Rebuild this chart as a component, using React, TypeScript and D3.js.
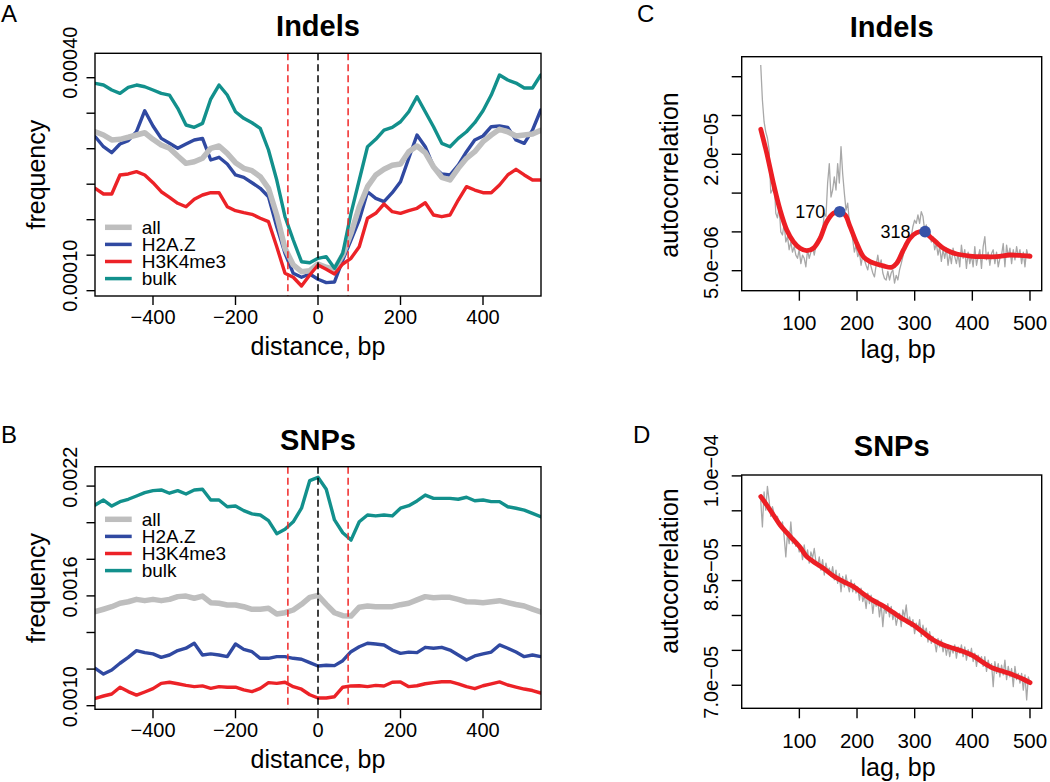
import React from 'react';
import * as d3 from 'd3';

// ---------------- data ----------------
// distance from nucleosome dyad, bp (sampling grid of the read-off values)
const distance = d3.range(-540, 541, 20);

// Panel A: indel frequency, in units of 1e-5
const indelAll = [32.39, 31.93, 31.23, 31.32, 31.61, 31.93, 32.25, 31.32, 30.52, 30.06, 28.97, 27.94, 28.17, 28.65, 30.06, 30.38, 29.35, 28.03, 27.24, 26.9, 26.06, 24.42, 20.66, 15.97, 13.62, 12.68, 12.82, 13.76, 13.3, 13.01, 15.03, 18.08, 21.83, 24.65, 26.3, 27.1, 27.66, 27.85, 29.58, 30.38, 29.44, 27.46, 25.97, 25.59, 27.24, 28.65, 29.58, 30.99, 31.93, 32.73, 32.39, 31.79, 31.93, 32.07, 32.6];
const indelH2AZ = [31.69, 30.28, 29.44, 30.66, 31.13, 32.39, 35.35, 33.2, 31.46, 30.76, 30.06, 30.66, 31.23, 31.46, 28.41, 28.79, 27.85, 26.3, 25.97, 25.21, 24.42, 23.24, 19.01, 15.27, 12.45, 11.89, 12.35, 11.61, 11.13, 11.23, 14.32, 17.14, 19.96, 23.94, 23.01, 22.54, 23.8, 25.35, 28.65, 31.93, 30.28, 27.46, 26.44, 26.3, 27.7, 29.58, 31.23, 31.79, 33.1, 33.2, 33.01, 31.23, 30.76, 32.63, 35.45];
const indelH3K4me3 = [24.42, 23.62, 23.62, 26.3, 26.44, 26.76, 26.3, 25.21, 23.94, 23.15, 22.31, 21.83, 22.87, 23.48, 23.8, 23.8, 21.83, 21.27, 20.99, 20.76, 20.2, 19.72, 16.2, 12.45, 11.89, 10.66, 12.21, 13.62, 13.01, 12.35, 13.76, 14.56, 16.2, 20.2, 20.9, 22.21, 21.13, 20.9, 21.27, 21.61, 22.39, 20.66, 20.42, 20.66, 22.77, 24.65, 24.18, 23.8, 23.8, 24.89, 26.3, 27.1, 26.3, 25.59, 25.59];
const indelBulk = [39.2, 38.97, 38.27, 37.8, 38.65, 38.97, 38.73, 38.27, 37.8, 37.56, 35.69, 33.34, 33.01, 33.57, 37.0, 38.97, 37.56, 35.21, 34.28, 33.66, 32.87, 29.82, 25.59, 20.42, 17.14, 14.08, 13.94, 14.56, 14.79, 13.15, 15.27, 20.9, 25.59, 30.28, 31.32, 32.63, 33.01, 33.8, 35.21, 37.32, 35.21, 33.1, 30.76, 30.28, 31.46, 32.39, 33.66, 35.35, 37.56, 40.38, 39.68, 39.25, 38.55, 38.55, 40.38];

// Panel B: SNP frequency, in units of 1e-5
const snpAll = [151.4, 152.7, 154.1, 156.0, 156.8, 158.1, 157.4, 158.1, 157.4, 158.1, 159.6, 159.9, 158.7, 159.9, 156.3, 156.0, 155.0, 155.0, 154.1, 152.7, 152.7, 153.2, 150.1, 150.8, 152.3, 155.4, 159.2, 160.3, 155.4, 150.8, 149.2, 149.0, 153.8, 154.5, 154.1, 154.1, 154.1, 155.2, 156.0, 157.8, 159.6, 159.0, 159.2, 159.2, 158.1, 156.8, 156.7, 156.3, 156.8, 157.4, 156.3, 155.3, 154.5, 152.8, 151.2];
const snpH2AZ = [120.4, 117.3, 119.5, 123.2, 126.4, 130.1, 129.0, 128.3, 126.4, 127.7, 130.1, 131.4, 134.1, 127.7, 128.3, 127.7, 126.8, 133.7, 130.8, 129.5, 125.9, 125.9, 126.8, 126.8, 125.9, 125.4, 123.5, 121.7, 122.1, 121.9, 124.6, 129.5, 132.2, 134.1, 133.7, 133.2, 130.4, 128.6, 129.3, 129.0, 131.9, 131.4, 131.9, 130.4, 127.7, 125.0, 127.2, 128.3, 129.3, 133.2, 131.4, 129.3, 126.8, 127.7, 126.8];
const snpH3K4me3 = [104.0, 105.3, 106.4, 110.1, 107.7, 105.8, 107.5, 109.3, 112.2, 112.8, 112.0, 111.1, 110.4, 110.8, 109.5, 110.4, 110.1, 110.1, 108.6, 107.7, 109.5, 112.6, 112.2, 112.8, 110.4, 109.0, 106.0, 104.2, 104.2, 104.9, 110.1, 110.8, 110.9, 110.4, 111.1, 110.8, 112.8, 113.0, 110.4, 110.9, 112.0, 112.6, 113.1, 113.1, 111.9, 110.4, 109.3, 110.9, 111.9, 113.0, 111.3, 110.2, 109.1, 108.3, 106.9];
const snpBulk = [209.7, 212.4, 209.1, 211.5, 212.8, 214.6, 216.4, 217.5, 217.9, 216.1, 217.5, 215.7, 217.9, 218.3, 212.4, 212.4, 208.7, 209.1, 206.6, 204.8, 204.2, 201.1, 194.0, 196.4, 200.5, 207.9, 223.0, 224.8, 218.3, 201.5, 194.5, 190.5, 200.5, 204.2, 203.7, 204.2, 203.7, 207.9, 209.3, 211.9, 215.1, 213.3, 213.3, 213.3, 212.8, 213.9, 212.0, 212.4, 211.5, 211.5, 208.7, 207.9, 206.9, 205.1, 203.3];

const distTicks = [-400, -200, 0, 200, 400];
const distTickLabels = ['\u2212400', '\u2212200', '0', '200', '400'];
const indelFreqTicks = [10, 15, 20, 25, 30, 35, 40];
const indelFreqLabels = ['0.00010', '', '', '', '', '', '0.00040'];
const snpFreqTicks = [100, 120, 140, 160, 180, 200, 220];
const snpFreqLabels = ['0.0010', '', '', '0.0016', '', '', '0.0022'];
const nucleosomeEdges = [-73, 73];
const legendNames = ['all', 'H2A.Z', 'H3K4me3', 'bulk'];

// Panel C: indel autocorrelation, units of 1e-6 ; raw values span lags 33..500 evenly
const lagRange = [33, 500];
const indelAcRaw = [
  31.5, 27.0, 24.2, 22.9, 22.1, 20.6, 15.0, 15.4, 16.7, 12.4,
  11.8, 13.3, 10.0, 9.6, 11.1, 8.7, 9.4, 7.7, 8.7, 7.4,
  8.1, 7.0, 6.6, 7.7, 5.9, 7.0, 6.6, 5.5, 7.7, 6.6,
  7.4, 8.1, 7.0, 8.3, 8.7, 9.4, 9.6, 10.2, 12.4, 12.0,
  16.3, 18.8, 14.5, 15.4, 17.1, 15.4, 18.8, 16.3, 21.0, 17.5,
  15.0, 12.8, 13.7, 11.3, 10.5, 9.0, 7.4, 8.3, 6.8, 7.4,
  5.7, 7.0, 6.4, 5.7, 5.1, 6.4, 5.5, 4.7, 4.2, 5.7,
  7.0, 5.5, 6.4, 4.7, 4.0, 3.8, 4.9, 3.8, 4.7, 5.1,
  3.4, 4.4, 3.8, 5.1, 5.9, 6.8, 7.7, 8.1, 8.7, 9.0,
  9.4, 10.7, 11.5, 11.1, 12.2, 11.1, 12.6, 12.0, 10.2, 10.9,
  9.4, 10.0, 8.7, 9.4, 7.7, 8.5, 7.0, 8.1, 6.2, 7.7,
  6.6, 7.9, 5.7, 7.2, 5.9, 7.9, 6.8, 5.9, 7.2, 5.5,
  8.3, 6.6, 7.7, 5.3, 7.4, 5.9, 7.0, 5.5, 8.1, 5.7,
  6.8, 7.7, 5.3, 8.1, 9.4, 6.4, 7.4, 5.7, 7.2, 7.7,
  5.9, 7.4, 5.5, 6.6, 7.0, 8.5, 5.5, 8.3, 6.8, 7.9,
  5.9, 7.7, 6.4, 8.1, 6.8, 7.7, 5.9, 7.4, 5.5, 7.7,
  6.8, 7.2,
];
const indelSmoothLag = [33.1, 43.5, 55.0, 66.6, 78.2, 89.7, 101.3, 112.8, 124.4, 136.0, 147.5, 159.1, 168.9, 179.3, 188.0, 199.5, 211.1, 222.7, 234.2, 245.8, 260.2, 268.9, 280.5, 292.0, 303.6, 316.3, 326.7, 338.2, 349.8, 361.4, 372.9, 396.1, 419.2, 442.3, 465.4, 488.6, 500.1];
const indelSmooth = [23.22, 20.13, 16.26, 12.82, 10.24, 8.74, 7.89, 7.58, 7.89, 9.17, 11.31, 12.4, 12.6, 12.18, 10.67, 8.53, 6.8, 6.16, 5.86, 5.61, 5.44, 5.95, 7.67, 9.17, 9.9, 10.03, 9.38, 8.61, 7.89, 7.45, 7.15, 6.89, 6.8, 6.8, 7.02, 6.93, 6.86];
const indelPeakLags = [170, 318];
const indelPeakValues = [12.6, 10.03];
const lagTicks = [100, 200, 300, 400, 500];
const indelAcTicks = [5, 10, 15, 20, 25, 30];
const indelAcLabels = ['5.0e\u221206', '', '', '2.0e\u221205', '', ''];

// Panel D: SNP autocorrelation, units of 1e-6
const snpAcRaw = [
  96.5, 92.7, 97.7, 95.1, 98.5, 96.5, 94.2, 95.6, 94.6, 93.7,
  94.2, 93.2, 92.7, 93.4, 91.3, 88.4, 91.8, 90.3, 93.4, 90.3,
  91.1, 89.9, 90.6, 89.1, 89.9, 88.0, 90.1, 88.4, 89.4, 87.5,
  89.1, 88.2, 89.6, 87.7, 87.0, 88.4, 86.5, 88.0, 85.8, 87.5,
  86.3, 86.8, 85.6, 87.0, 85.1, 86.5, 84.6, 86.0, 83.4, 85.6,
  84.1, 85.8, 84.4, 83.4, 85.1, 83.4, 84.6, 83.2, 84.1, 82.2,
  83.9, 82.0, 82.9, 81.0, 83.2, 81.7, 82.9, 80.3, 82.2, 81.3,
  82.2, 79.8, 81.7, 78.4, 81.3, 80.3, 81.7, 79.8, 81.3, 79.4,
  80.5, 78.6, 79.8, 80.3, 78.4, 80.8, 79.8, 81.5, 78.9, 79.8,
  78.4, 79.4, 77.4, 78.9, 77.9, 79.4, 77.0, 78.6, 77.4, 78.2,
  76.2, 77.7, 76.0, 77.0, 76.2, 74.8, 76.7, 75.5, 76.5, 74.8,
  76.0, 74.3, 75.8, 74.1, 75.5, 74.6, 75.8, 73.9, 75.5, 74.6,
  75.8, 74.1, 75.5, 73.6, 75.1, 74.1, 75.3, 73.4, 74.6, 72.7,
  74.3, 73.6, 74.1, 72.7, 74.1, 72.0, 73.6, 72.4, 73.1, 69.8,
  73.4, 71.7, 73.1, 71.2, 72.9, 71.5, 73.6, 70.8, 72.7, 71.2,
  72.4, 69.8, 72.7, 70.8, 71.7, 70.3, 71.7, 69.3, 71.5, 67.9,
  71.2, 70.3,
];
const snpSmoothLag = [33.1, 43.5, 55.0, 66.6, 78.2, 89.7, 101.3, 112.8, 124.4, 141.7, 159.1, 176.4, 193.8, 211.1, 228.4, 245.8, 263.1, 280.5, 297.8, 315.1, 332.5, 349.8, 367.2, 384.5, 401.8, 419.2, 436.5, 453.9, 471.2, 488.6, 500.1];
const snpSmooth = [97.03, 95.83, 94.4, 92.97, 91.87, 90.82, 89.77, 88.43, 87.71, 86.76, 85.66, 84.85, 84.13, 83.08, 82.13, 81.36, 80.41, 79.45, 78.64, 77.54, 76.49, 75.78, 75.3, 74.82, 74.2, 73.24, 72.43, 71.96, 71.48, 70.86, 70.38];
const snpAcTicks = [70, 75, 80, 85, 90, 95, 100];
const snpAcLabels = ['7.0e\u221205', '', '', '8.5e\u221205', '', '', '1.0e\u221204'];

// ---------------- styling ----------------
const FONT = '"Liberation Sans", Arial, Helvetica, sans-serif';
const C_ALL = '#BEBEBE';
const C_H2AZ = '#3049A1';
const C_H3K4 = '#EC2227';
const C_BULK = '#12908C';
const C_RAW = '#A8A8A8';
const C_SMOOTH = '#EC1E24';
const C_DOT = '#3853A8';

const xDist = d3.scaleLinear().domain([-540.6, 540.6]).range([95, 541]);
const xLag = d3.scaleLinear().domain([0, 520.3]).range([741.7, 1041.7]);

type Series = { values: number[]; color: string; width: number };

function DistPanel(props: {
  id: string;
  y: d3.ScaleLinear<number, number>;
  series: Series[];
  ticks: number[];
  labels: string[];
  labelShift: number;
  title: string;
  titleY: number;
  letter: string;
  letterY: number;
  legendY: number;
}) {
  const { id, y, series, ticks, labels, labelShift, title, titleY, letter, letterY, legendY } = props;
  const [x0, x1] = xDist.range();
  const [yb, yt] = y.range();
  const line = d3
    .line<number>()
    .x((_, i) => xDist(distance[i]))
    .y((v) => y(v));
  const legendColors = [C_ALL, C_H2AZ, C_H3K4, C_BULK];
  const legendWidths = [5.5, 3.5, 3.5, 3.5];
  const xc = (x0 + x1) / 2;
  return (
    <g>
      <defs>
        <clipPath id={id}>
          <rect x={x0} y={yt} width={x1 - x0} height={yb - yt} />
        </clipPath>
      </defs>
      <g clipPath={`url(#${id})`}>
        {series.map((s, i) => (
          <path key={i} d={line(s.values) || ''} fill="none" stroke={s.color} strokeWidth={s.width} strokeLinejoin="round" strokeLinecap="round" />
        ))}
        {nucleosomeEdges.map((e) => (
          <line key={e} x1={xDist(e)} x2={xDist(e)} y1={yt} y2={yb} stroke="#F02828" strokeWidth={1.5} strokeDasharray="7,4" />
        ))}
        <line x1={xDist(0)} x2={xDist(0)} y1={yt} y2={yb} stroke="#000" strokeWidth={1.5} strokeDasharray="7,4" />
      </g>
      <rect x={x0} y={yt} width={x1 - x0} height={yb - yt} fill="none" stroke="#000" strokeWidth={1.4} />
      {distTicks.map((t, i) => (
        <g key={t}>
          <line x1={xDist(t)} x2={xDist(t)} y1={yb} y2={yb + 9} stroke="#000" strokeWidth={1.4} />
          <text x={xDist(t)} y={yb + 28} textAnchor="middle" fontSize={20}>
            {distTickLabels[i]}
          </text>
        </g>
      ))}
      {ticks.map((t, i) => (
        <g key={t}>
          <line x1={x0 - 8.5} x2={x0} y1={y(t)} y2={y(t)} stroke="#000" strokeWidth={1.4} />
          {labels[i] && (
            <text transform={`translate(76.7,${y(t) + labelShift}) rotate(-90)`} textAnchor="middle" fontSize={20}>
              {labels[i]}
            </text>
          )}
        </g>
      ))}
      <text transform={`translate(45,${(yt + yb) / 2}) rotate(-90)`} textAnchor="middle" fontSize={25}>
        frequency
      </text>
      <text x={xc} y={yb + 59} textAnchor="middle" fontSize={25}>
        distance, bp
      </text>
      <text x={xc} y={titleY} textAnchor="middle" fontSize={29} fontWeight="bold">
        {title}
      </text>
      <text x={1} y={letterY} fontSize={24}>
        {letter}
      </text>
      {legendNames.map((n, i) => (
        <g key={n}>
          <line x1={105} x2={131.7} y1={legendY + i * 17.1} y2={legendY + i * 17.1} stroke={legendColors[i]} strokeWidth={legendWidths[i]} />
          <text x={141.7} y={legendY + i * 17.1} dominantBaseline="central" fontSize={19}>
            {n}
          </text>
        </g>
      ))}
    </g>
  );
}

function AcPanel(props: {
  id: string;
  y: d3.ScaleLinear<number, number>;
  raw: number[];
  smoothLag: number[];
  smooth: number[];
  ticks: number[];
  labels: string[];
  labelShifts: number[];
  title: string;
  titleY: number;
  letter: string;
  letterX: number;
  letterY: number;
  ylabY: number;
  peaks?: { lags: number[]; values: number[] };
}) {
  const { id, y, raw, smoothLag, smooth, ticks, labels, labelShifts, title, titleY, letter, letterX, letterY, ylabY, peaks } = props;
  const [x0, x1] = xLag.range();
  const [yb, yt] = y.range();
  const rawLag = d3.scaleLinear().domain([0, raw.length - 1]).range(lagRange);
  const rawLine = d3
    .line<number>()
    .x((_, i) => xLag(rawLag(i)))
    .y((v) => y(v));
  const smoothLine = d3
    .line<number>()
    .x((_, i) => xLag(smoothLag[i]))
    .y((v) => y(v))
    .curve(d3.curveCatmullRom.alpha(0.5));
  return (
    <g>
      <defs>
        <clipPath id={id}>
          <rect x={x0} y={yt} width={x1 - x0} height={yb - yt} />
        </clipPath>
      </defs>
      <g clipPath={`url(#${id})`}>
        <path d={rawLine(raw) || ''} fill="none" stroke={C_RAW} strokeWidth={1.3} strokeLinejoin="round" />
        <path d={smoothLine(smooth) || ''} fill="none" stroke={C_SMOOTH} strokeWidth={4.8} strokeLinecap="round" strokeLinejoin="round" />
      </g>
      {peaks &&
        peaks.lags.map((l, i) => (
          <g key={l}>
            <circle cx={xLag(l)} cy={y(peaks.values[i])} r={5.8} fill={C_DOT} />
            <text x={xLag(l) - 14.5} y={y(peaks.values[i]) + 6} textAnchor="end" fontSize={18}>
              {String(l)}
            </text>
          </g>
        ))}
      <rect x={x0} y={yt} width={x1 - x0} height={yb - yt} fill="none" stroke="#000" strokeWidth={1.4} />
      {lagTicks.map((t) => (
        <g key={t}>
          <line x1={xLag(t)} x2={xLag(t)} y1={yb} y2={yb + 10} stroke="#000" strokeWidth={1.4} />
          <text x={xLag(t)} y={yb + 39.5} textAnchor="middle" fontSize={20.5}>
            {String(t)}
          </text>
        </g>
      ))}
      {ticks.map((t, i) => (
        <g key={t}>
          <line x1={x0 - 10} x2={x0} y1={y(t)} y2={y(t)} stroke="#000" strokeWidth={1.4} />
          {labels[i] && (
            <text transform={`translate(718.3,${y(t) + labelShifts[i]}) rotate(-90)`} textAnchor="middle" fontSize={20}>
              {labels[i]}
            </text>
          )}
        </g>
      ))}
      <text transform={`translate(678.3,${ylabY}) rotate(-90)`} textAnchor="middle" fontSize={25}>
        autocorrelation
      </text>
      <text x={898} y={yb + 67.5} textAnchor="middle" fontSize={25}>
        lag, bp
      </text>
      <text x={(x0 + x1) / 2} y={titleY} textAnchor="middle" fontSize={29} fontWeight="bold">
        {title}
      </text>
      <text x={letterX} y={letterY} fontSize={24}>
        {letter}
      </text>
    </g>
  );
}

export default function App() {
  const yA = d3.scaleLinear().domain([9.25, 43.44]).range([296, 53.3]);
  const yB = d3.scaleLinear().domain([98.03, 230.6]).range([709.3, 466.7]);
  const yC = d3.scaleLinear().domain([2.42, 32.58]).range([290.7, 56.7]);
  const yD = d3.scaleLinear().domain([66.7, 100.13]).range([708.3, 475]);
  return (
    <svg
      width={1050}
      height={782}
      viewBox="0 0 1050 782"
      style={{ position: 'absolute', left: 0, top: 0, background: '#fff' }}
      fontFamily={FONT}
      fill="#000"
    >
      <rect x={0} y={0} width={1050} height={782} fill="#fff" />
      <DistPanel
        id="clipA"
        y={yA}
        series={[
          { values: indelH2AZ, color: C_H2AZ, width: 3.4 },
          { values: indelAll, color: C_ALL, width: 5.5 },
          { values: indelH3K4me3, color: C_H3K4, width: 3.4 },
          { values: indelBulk, color: C_BULK, width: 3.4 },
        ]}
        ticks={indelFreqTicks}
        labels={indelFreqLabels}
        labelShift={-15}
        title="Indels"
        titleY={36}
        letter="A"
        letterY={22}
        legendY={227.3}
      />
      <DistPanel
        id="clipB"
        y={yB}
        series={[
          { values: snpH2AZ, color: C_H2AZ, width: 3.4 },
          { values: snpAll, color: C_ALL, width: 5.5 },
          { values: snpH3K4me3, color: C_H3K4, width: 3.4 },
          { values: snpBulk, color: C_BULK, width: 3.4 },
        ]}
        ticks={snpFreqTicks}
        labels={snpFreqLabels}
        labelShift={-9}
        title="SNPs"
        titleY={450}
        letter="B"
        letterY={443}
        legendY={519.3}
      />
      <AcPanel
        id="clipC"
        y={yC}
        raw={indelAcRaw}
        smoothLag={indelSmoothLag}
        smooth={indelSmooth}
        ticks={indelAcTicks}
        labels={indelAcLabels}
        labelShifts={[-8, -5, -5, -5, -5, -5]}
        title="Indels"
        titleY={37}
        letter="C"
        letterX={637}
        letterY={22}
        ylabY={175}
        peaks={{ lags: indelPeakLags, values: indelPeakValues }}
      />
      <AcPanel
        id="clipD"
        y={yD}
        raw={snpAcRaw}
        smoothLag={snpSmoothLag}
        smooth={snpSmooth}
        ticks={snpAcTicks}
        labels={snpAcLabels}
        labelShifts={[-3, -5, -5, -6, -5, -5, -5]}
        title="SNPs"
        titleY={456}
        letter="D"
        letterX={633}
        letterY={443}
        ylabY={571}
      />
    </svg>
  );
}
